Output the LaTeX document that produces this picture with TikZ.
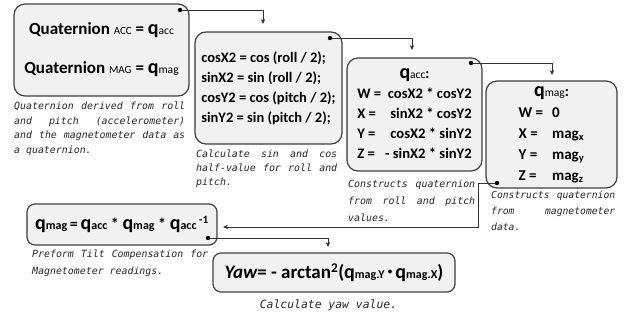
\documentclass[tikz,border=0pt]{standalone}
\usepackage{fontspec}
\setmainfont{Carlito}
\newfontfamily\capmono{DejaVu Sans Mono}
\usetikzlibrary{arrows.meta}
\definecolor{boxc}{HTML}{404040}
\definecolor{fillc}{HTML}{F1F1F1}
\definecolor{linec}{HTML}{333333}
\newcommand\capf[2]{\fontsize{#1}{#2}\selectfont\capmono\itshape\spaceskip=0.602em plus 1fil\relax}
\newcommand\jl[2]{\hbox to #1pt{#2}}
\newcommand\qs[1]{{\fontsize{20}{20}\selectfont q}{\mdseries\fontsize{11.5}{11.5}\selectfont #1}}
\newcommand\qb[1]{{\fontsize{20}{20}\selectfont q}{\fontsize{12}{12}\selectfont #1}}
\tikzset{
  box/.style={draw=boxc, fill=fillc, line width=1.2pt, rounded corners=11pt, inner sep=0pt},
  captxt/.style={anchor=north west, inner sep=0pt, align=left, text=black!85},
  conn/.style={draw=linec, line width=0.9pt},
  arr/.style={conn, -{Stealth[length=5pt,width=4.5pt]}},
  dotc/.style={fill=black},
}
\begin{document}
\begin{tikzpicture}[x=1pt,y=-1pt]
\fill[white] (0,0) rectangle (631,320);
\useasboundingbox (0,0) rectangle (631,320);

% boxes
\node[box, minimum width=175pt, minimum height=92pt, align=center,
      font=\bfseries\fontsize{17}{39}\selectfont] (b1) at (101.5,50)
  {Quaternion {\mdseries\fontsize{11}{11}\selectfont ACC} = \qs{acc}\\
   Quaternion {\mdseries\fontsize{11}{11}\selectfont MAG} = \qs{mag}};

\node[box, minimum width=147pt, minimum height=112pt, align=left,
      font=\bfseries\fontsize{14.5}{20}\selectfont] (b2) at (268.5,88)
  {cosX2 = cos (roll / 2);\\ sinX2 = sin (roll / 2);\\ cosY2 = cos (pitch / 2);\\ sinY2 = sin (pitch / 2);};

\node[box, minimum width=135pt, minimum height=113pt,
      font=\bfseries\fontsize{14.6}{20}\selectfont] (b3) at (414.5,114.5)
  {\begin{tabular}{@{}l@{\hspace{4pt}}r@{}}
   \multicolumn{2}{c}{\qs{acc}:}\\
   W = & cosX2 * cosY2\\
   X = & sinX2 * cosY2\\
   Y = & cosX2 * sinY2\\
   Z = & - sinX2 * sinY2
   \end{tabular}};

\node[box, minimum width=131pt, minimum height=107pt,
      font=\bfseries\fontsize{15}{21}\selectfont] (b4) at (551.5,134.5)
  {\begin{tabular}{@{}l@{\hspace{9pt}}l@{}}
   \multicolumn{2}{c}{\qs{mag}:}\\
   W = & 0\\
   X = & mag\textsubscript{x}\\
   Y = & mag\textsubscript{y}\\
   Z = & mag\textsubscript{z}
   \end{tabular}};

\node[box, rounded corners=8pt, minimum width=190pt, minimum height=41pt,
      font=\bfseries\fontsize{16}{16}\selectfont] (bt) at (122,224.5)
  {\qb{mag}\,=\,\qb{acc} * \qb{mag} * \qb{acc}\,\textsuperscript{-1}};

\node[box, rounded corners=8pt, minimum width=242pt, minimum height=39pt,
      font=\bfseries\fontsize{19}{19}\selectfont] (by) at (334,272.5)
  {{\itshape Yaw}= - arctan\textsuperscript{2}(\qb{mag.Y}\,\raisebox{3.5pt}{\fontsize{9}{9}\selectfont\textbullet}\,\qb{mag.X})};

% captions
\node[captxt, font=\capf{9.9}{14.8}] (c1) at (14,101.5)
  {\jl{171}{Quaternion derived from roll}\\
   \jl{171}{and pitch (accelerometer)}\\
   \jl{171}{and the magnetometer data as}\\
   \mbox{a quaternion.}};
\node[captxt, font=\capf{9.9}{14}] (c2) at (196,150)
  {\jl{141}{Calculate sin and cos}\\
   \jl{141}{half-value for roll and}\\
   \mbox{pitch.}};
\node[captxt, font=\capf{9.9}{17}] (c3) at (348,180)
  {\jl{127}{Constructs quaternion}\\
   \jl{127}{from roll and pitch}\\
   \mbox{values.}};
\node[captxt, font=\capf{9.7}{16}] (c4) at (491,191)
  {\jl{124}{Constructs quaternion}\\
   \jl{124}{from magnetometer}\\
   \mbox{data.}};
\node[captxt, font=\capf{9.9}{17}] (ct) at (32,250)
  {\jl{176}{Preform Tilt Compensation for}\\
   \mbox{Magnetometer readings.}};
\node[inner sep=0pt, text=black!85, font=\capf{11.4}{13}] (cy) at (328.5,305)
  {Calculate yaw value.};

% connector points
\coordinate (d1) at (180,10);
\coordinate (d2) at (330,38);
\coordinate (d3) at (471,63);
\coordinate (d4) at (497,183);
\coordinate (d5) at (208,238);
\coordinate (a1) at (263,24);
\coordinate (a2) at (412,50);
\coordinate (a3) at (552,75);
\coordinate (k4) at (478,227);
\coordinate (a4) at (223,227);
\coordinate (a5) at (328,247);

\draw[arr] (d1) -| (a1);
\draw[arr] (d2) -| (a2);
\draw[arr] (d3) -| (a3);
\draw[arr] (d4) -| (k4) -- (a4);
\draw[arr] (d5) -| (a5);

\foreach \p in {d1,d2,d3,d4,d5} \fill[dotc] (\p) circle (2.2pt);
\end{tikzpicture}
\end{document}
